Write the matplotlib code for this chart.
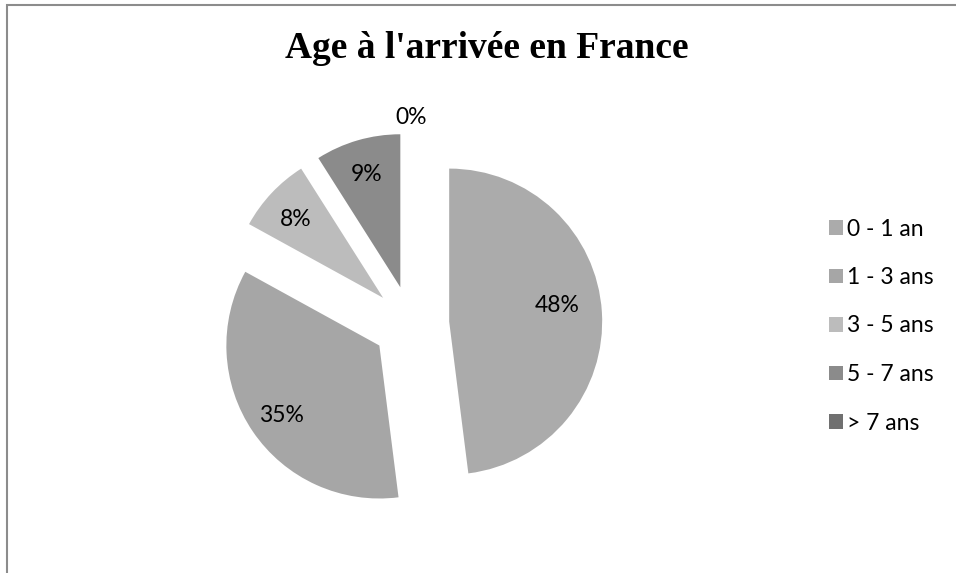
import numpy as np
import matplotlib
matplotlib.use('Agg')
from matplotlib import pyplot as plt
from matplotlib.patches import Rectangle

# data
categories = ['0 - 1 an', '1 - 3 ans', '3 - 5 ans', '5 - 7 ans', '> 7 ans']
shares = [48, 35, 8, 9, 0]
colors = ['#ababab', '#a6a6a6', '#bcbcbc', '#8b8b8b', '#707070']

W, H = 956, 573
fig = plt.figure(figsize=(W / 100, H / 100), dpi=100)

# chart frame (only left/top edges visible in the crop)
fig.patches.append(Rectangle((7 / W, -0.1), 1.2, (H - 5) / H + 0.1,
                             transform=fig.transFigure, fill=False,
                             edgecolor='#8c8c8c', linewidth=1.5))

# pie axes: centre at (411, 324) px, radius 153 px
radius_px = 153
half = 200
cx, cy = 411, H - 324
ax = fig.add_axes([(cx - half) / W, (cy - half) / H, 2 * half / W, 2 * half / H])
lim = half / radius_px

wedges, texts, autotexts = ax.pie(
    shares, colors=colors, startangle=90, counterclock=False,
    explode=[0.25] * len(shares), autopct='%1.0f%%', pctdistance=0.75,
    textprops=dict(fontsize=16.5, family='Lato', color='black'))

# per-slice label distance (fraction of radius from each slice's apex)
label_dist = [0.71, 0.775, 0.78, 0.79, 1.12]
for w, t, d in zip(wedges, autotexts, label_dist):
    mid = np.deg2rad((w.theta1 + w.theta2) / 2)
    x0, y0 = w.center
    t.set_position((x0 + d * np.cos(mid), y0 + d * np.sin(mid) - 0.02))
# the big slice label sits a little higher in the original
autotexts[0].set_y(autotexts[0].get_position()[1] + 0.08)

ax.set_xlim(-lim, lim)
ax.set_ylim(-lim, lim)
ax.set_aspect('equal')
ax.axis('off')

fig.text(487 / W, 1 - 48 / H, "Age à l'arrivée en France", ha='center', va='center',
         fontsize=27, fontweight='bold', family='Liberation Serif')

handles = [Rectangle((0, 0), 1, 1, facecolor=c, edgecolor='none') for c in colors]
fig.legend(handles, categories, loc='center left', bbox_to_anchor=(829 / W, 1 - 326 / H),
           frameon=False, prop=dict(family='Lato', size=16.5), handlelength=0.6,
           handleheight=0.6, handletextpad=0.2, labelspacing=1.2, borderpad=0,
           borderaxespad=0)

fig.savefig('out.png', dpi=100)
